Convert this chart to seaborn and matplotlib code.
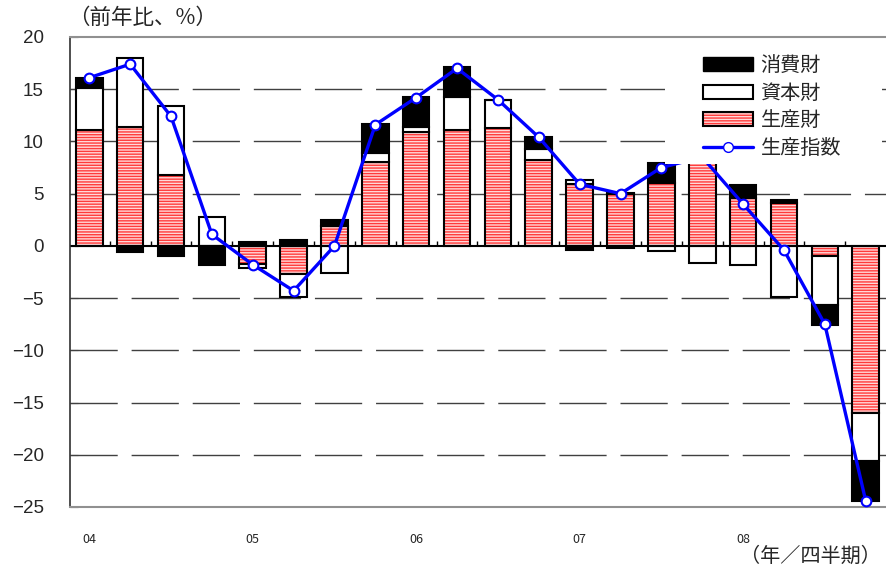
import numpy as np
import pandas as pd
import matplotlib
matplotlib.use('Agg')
import matplotlib.pyplot as plt
import seaborn as sns
from matplotlib.patches import Patch, Rectangle
from matplotlib.lines import Line2D

# data (前年比, %) 2004Q1 - 2008Q4
quarters = ['04Q1', '04Q2', '04Q3', '04Q4', '05Q1', '05Q2', '05Q3', '05Q4',
            '06Q1', '06Q2', '06Q3', '06Q4', '07Q1', '07Q2', '07Q3', '07Q4',
            '08Q1', '08Q2', '08Q3', '08Q4']
seisan = [11.1, 11.4, 6.8, 0.0, -1.7, -2.7, 1.9, 8.0, 10.9, 11.1,
          11.3, 8.2, 5.9, 5.0, 6.0, 9.5, 4.6, 4.1, -1.0, -16.0]
shihon = [4.0, 6.6, 6.6, 2.8, -0.4, -2.2, -2.6, 0.9, 0.5, 3.2,
          2.7, 1.1, 0.4, 0.1, -0.5, -1.6, -1.8, -4.9, -4.7, -4.6]
shohi = [1.0, -0.6, -1.0, -1.8, 0.4, 0.6, 0.6, 2.8, 2.9, 2.8,
         0.0, 1.1, -0.4, -0.2, 1.9, 0.6, 1.2, 0.3, -1.9, -3.8]
shisu = [16.1, 17.4, 12.4, 1.1, -1.8, -4.3, 0.0, 11.6, 14.2, 17.0,
         14.0, 10.4, 5.9, 5.0, 7.5, 8.5, 4.0, -0.4, -7.5, -24.4]
year_labels = ['04', '05', '06', '07', '08']

sns.set_style('white')
plt.rcParams['font.family'] = ['Noto Sans CJK JP', 'DejaVu Sans']

df = pd.DataFrame({'q': quarters, 'pos': np.arange(len(quarters)), 'shisu': shisu})

fig = plt.figure(figsize=(8.87, 5.69), dpi=100)
ax = fig.add_axes([0.079, 0.109, 0.92, 0.826])

x = df['pos'].values
w = 0.65
pos_bot = np.zeros(len(x))
neg_bot = np.zeros(len(x))

red_face = '#ffd8d8'
red_hatch = '#ff3a3a'

# stacked bars: 生産財 -> 資本財 -> 消費財 outward from zero
for vals, kind in [(seisan, 'red'), (shihon, 'white'), (shohi, 'black')]:
    v = np.array(vals)
    bot = np.where(v >= 0, pos_bot, neg_bot)
    if kind == 'red':
        ax.bar(x, v, w, bottom=bot, color=red_face, edgecolor=red_hatch,
               hatch='------', linewidth=0, zorder=2)
        ax.bar(x, v, w, bottom=bot, fill=False, edgecolor='black', linewidth=1.5, zorder=2)
    else:
        ax.bar(x, v, w, bottom=bot, color=kind, edgecolor='black', linewidth=1.5, zorder=2)
    pos_bot = pos_bot + np.where(v >= 0, v, 0)
    neg_bot = neg_bot + np.where(v < 0, v, 0)

# dashed grid
for yv in [15, 10, 5, -5, -10, -15, -20]:
    ax.axhline(yv, color='#404040', lw=1, dashes=(34, 10), zorder=1)
ax.axhline(0, color='black', lw=1.5, zorder=2.5)
ax.vlines(x[:-1] + 0.5, 0, 0.45, color='black', lw=1, zorder=2.5)

sns.lineplot(data=df, x='pos', y='shisu', ax=ax, color='#0000ff', lw=2.4,
             marker='o', markersize=7, markerfacecolor='white',
             markeredgecolor='#0000ff', markeredgewidth=1.5, zorder=4)

ax.set_xlim(-0.47, 19.5)
ax.set_ylim(-25, 20)
ax.set_yticks(np.arange(-25, 21, 5))
ax.tick_params(axis='y', labelsize=13.5, length=6, pad=19, left=True, direction='in',
               color='#303030')
for t in ax.get_yticklabels():
    t.set_family(['Liberation Sans', 'DejaVu Sans'])
ax.set_xticks([0, 4, 8, 12, 16])
ax.set_xticklabels(year_labels, fontsize=9)
ax.tick_params(axis='x', length=0, pad=19)
ax.set_xlabel('')
ax.set_ylabel('')

for s in ['top', 'bottom']:
    ax.spines[s].set_color('#909090')
    ax.spines[s].set_linewidth(1.5)
ax.spines['left'].set_color('#303030')
ax.spines['left'].set_linewidth(1.2)
ax.spines['right'].set_visible(False)

# white block behind the legend (hides the bars and line under it)
fig.add_artist(Rectangle((665 / 887, 1 - 164 / 569), 217 / 887, 124 / 569,
                         transform=fig.transFigure, facecolor='white',
                         edgecolor='none', zorder=1))

handles = [Patch(facecolor='black', edgecolor='black'),
           Patch(facecolor='white', edgecolor='black', linewidth=1.5),
           (Patch(facecolor=red_face, edgecolor=red_hatch, hatch='------', linewidth=0),
            Patch(fill=False, edgecolor='black', linewidth=1.5)),
           Line2D([], [], color='#0000ff', lw=2.4, marker='o', markersize=7,
                  markerfacecolor='white', markeredgecolor='#0000ff')]
labels = ['消費財', '資本財', '生産財', '生産指数']
leg = fig.legend(handles, labels, loc='upper left', bbox_to_anchor=(703 / 887, 1 - 55 / 569),
                 fontsize=14.5, handlelength=2.5, handleheight=0.7, handletextpad=0.35,
                 labelspacing=0.33, borderpad=0, borderaxespad=0, frameon=False)

fig.text(68 / 887, 1 - 18 / 569, '（前年比、%）', fontsize=15.5, va='center', ha='left')
fig.text(881 / 887, 1 - 567 / 569, '（年／四半期）', fontsize=14.5, va='bottom', ha='right')

fig.savefig('out.png', dpi=100)
